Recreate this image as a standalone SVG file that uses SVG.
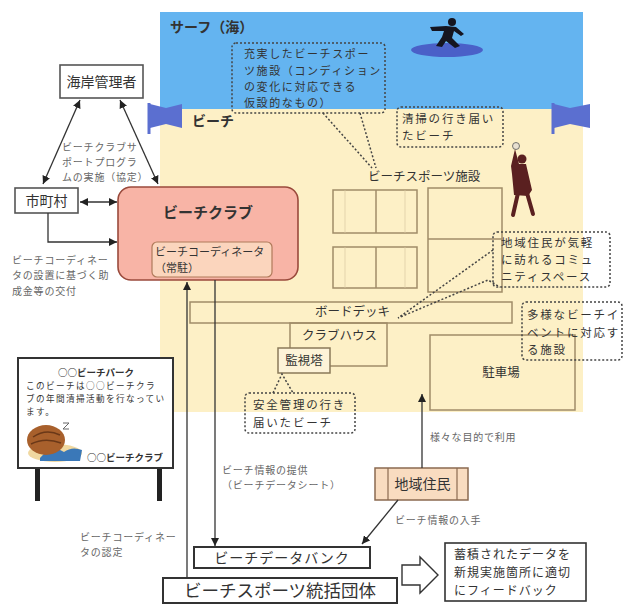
<svg xmlns="http://www.w3.org/2000/svg" width="624" height="604" viewBox="0 0 624 604">
  <defs>
    <style>
      text { font-family: "Noto Sans CJK JP", "Noto Sans", sans-serif; fill: #333; }
      .lbl { font-size: 12.5px; }
      .ann { font-size: 10px; fill: #666; letter-spacing: 0.8px; }
      .call { font-size: 11.5px; fill: #333; letter-spacing: 1.8px; }
      .call1 { font-size: 11px; fill: #333; letter-spacing: 1.6px; }
      .box { fill: #fff; stroke: #555; stroke-width: 1.6; }
      .fac { fill: none; stroke: #a08c68; stroke-width: 1.5; }
      .dot { fill: none; stroke: #444; stroke-width: 1.5; stroke-dasharray: 2 2; }
      .ln { fill: none; stroke: #333; stroke-width: 1.3; }
    </style>
    <marker id="arr" viewBox="0 0 10 10" refX="10" refY="5" markerWidth="8" markerHeight="8" markerUnits="userSpaceOnUse" orient="auto-start-reverse">
      <path d="M0,0 L10,5 L0,10 z" fill="#222"/>
    </marker>
  </defs>

  <rect width="624" height="604" fill="#fff"/>

  <!-- sea and beach -->
  <g id="ground">
    <rect x="160" y="109" width="423" height="303" fill="#fdf0c6"/>
    <rect x="160" y="12" width="423" height="97" fill="#64b4f0"/>
    <text x="170" y="32" font-size="14" font-weight="bold" fill="#2a2a3a">サーフ（海）</text>
    <text x="192" y="126" font-size="14" font-weight="bold" fill="#3a3020">ビーチ</text>
    <!-- flags -->
    <path d="M149,103 L149,134" stroke="#5b6fd0" stroke-width="3"/>
    <path d="M150,104 L166,108 L182,104 L182,128 L166,124 L150,128 z" fill="#5b6fd0"/>
    <path d="M553,103 L553,134" stroke="#5b6fd0" stroke-width="3"/>
    <path d="M554,104 L570,108 L590,104 L590,128 L570,124 L554,128 z" fill="#5b6fd0"/>
    <!-- surfer -->
    <ellipse cx="447" cy="50" rx="36" ry="7" fill="#4a60c8"/>
    <circle cx="452" cy="22" r="4" fill="#151520"/>
    <path d="M430,27 L446,26 L456,27 L464,34 L461,36 L454,31 L452,38 L460,46 L455,48 L446,41 L442,47 L436,46 L442,37 L444,31 L432,31 z" fill="#151520"/>
    <!-- volleyball player -->
    <circle cx="516" cy="146" r="3.5" fill="#e8e0d0" stroke="#555" stroke-width="0.8"/>
    <circle cx="522" cy="159" r="4.5" fill="#5a2020"/>
    <path d="M515,149 L519,164 L526,164 L532,190 L528,196 L514,195 L512,174 L511,166 z" fill="#5a2020"/>
    <path d="M518,193 L513,215 M527,193 L533,214" stroke="#5a2020" stroke-width="4" stroke-linecap="round"/>
  </g>

  <!-- beach facilities -->
  <g id="facilities">
    <text x="368" y="181" class="lbl">ビーチスポーツ施設</text>
    <rect x="333" y="190" width="84" height="43" class="fac"/>
    <line x1="376" y1="190" x2="376" y2="233" class="fac"/>
    <rect x="333" y="247" width="84" height="41" class="fac"/>
    <line x1="376" y1="247" x2="376" y2="288" class="fac"/>
    <rect x="428" y="188" width="74" height="104" class="fac"/>
    <line x1="428" y1="239" x2="502" y2="239" class="fac"/>
    <g stroke="#d8c8a0" stroke-width="0.7">
      <line x1="345" y1="190" x2="345" y2="233"/><line x1="405" y1="190" x2="405" y2="233"/>
      <line x1="345" y1="247" x2="345" y2="288"/><line x1="405" y1="247" x2="405" y2="288"/>
    </g>
  </g>

  <g id="boardwalk">
    <rect x="190" y="302" width="322" height="21" class="fac"/>
    <text x="315" y="316" class="lbl">ボードデッキ</text>
  </g>

  <g id="clubhouse">
    <rect x="290" y="323" width="97" height="43" class="fac"/>
    <text x="302" y="340" class="lbl">クラブハウス</text>
  </g>

  <g id="tower">
    <rect x="278" y="348" width="52" height="25" fill="#fdf3d8" stroke="#8a7a5a" stroke-width="1.5"/>
    <text x="304" y="365" class="lbl" text-anchor="middle">監視塔</text>
  </g>

  <g id="parking">
    <rect x="430" y="335" width="145" height="75" class="fac"/>
    <text x="501" y="377" class="lbl" text-anchor="middle">駐車場</text>
  </g>

  <!-- dotted callouts -->
  <g id="callout-sports">
    <rect x="232" y="43" width="153" height="70" rx="4" class="dot"/>
    <path d="M323,113 L372,168 M360,113 L376,168" class="dot"/>
    <text class="call1"><tspan x="244" y="58">充実したビーチスポー</tspan><tspan x="244" y="75">ツ施設（コンディション</tspan><tspan x="244" y="91">の変化に対応できる</tspan><tspan x="244" y="107">仮設的なもの）</tspan></text>
  </g>
  <g id="callout-clean">
    <rect x="397" y="107" width="106" height="40" rx="4" class="dot"/>
    <text class="call"><tspan x="402" y="123">清掃の行き届い</tspan><tspan x="402" y="140">たビーチ</tspan></text>
  </g>
  <g id="callout-community">
    <rect x="493" y="232" width="117" height="55" rx="4" class="dot"/>
    <path d="M493,250 L398,318 L488,280 L500,287" class="dot"/>
    <text class="call"><tspan x="501" y="247">地域住民が気軽</tspan><tspan x="501" y="264">に訪れるコミュ</tspan><tspan x="501" y="281">ニティスペース</tspan></text>
  </g>
  <g id="callout-events">
    <rect x="522" y="302" width="100" height="58" rx="4" class="dot"/>
    <text class="call"><tspan x="527" y="319">多様なビーチイ</tspan><tspan x="527" y="337">ベントに対応す</tspan><tspan x="527" y="354">る施設</tspan></text>
  </g>
  <g id="callout-safety">
    <rect x="245" y="393" width="110" height="40" rx="4" class="dot"/>
    <path d="M273,393 L282,374 L293,393" class="dot"/>
    <text class="call"><tspan x="253" y="409">安全管理の行き</tspan><tspan x="253" y="427">届いたビーチ</tspan></text>
  </g>

  <!-- organisations -->
  <g id="coast-manager">
    <rect x="60" y="65" width="83" height="33" class="box"/>
    <text x="101.5" y="87" font-size="14" text-anchor="middle">海岸管理者</text>
  </g>

  <g id="municipality">
    <rect x="15" y="188" width="63" height="25" class="box"/>
    <text x="46.5" y="206" font-size="14" text-anchor="middle">市町村</text>
  </g>

  <g id="beach-club">
    <rect x="118" y="187" width="180" height="93" rx="13" fill="#f8b4a6" stroke="#9a4a3c" stroke-width="1.6"/>
    <text x="163" y="218" font-size="15" font-weight="bold" fill="#4a2a2a">ビーチクラブ</text>
    <rect x="152" y="242" width="120" height="35" rx="5" fill="#fbd5bd" stroke="#b07a5a" stroke-width="1.2"/>
    <text font-size="11" fill="#555"><tspan x="155" y="256">ビーチコーディネータ</tspan><tspan x="155" y="272">（常駐）</tspan></text>
  </g>

  <g id="residents">
    <rect x="375" y="468" width="93" height="32" fill="#f9dcc0" stroke="#8a6a50" stroke-width="1.5"/>
    <line x1="388" y1="468" x2="388" y2="500" stroke="#8a6a50" stroke-width="1.2"/>
    <line x1="457" y1="468" x2="457" y2="500" stroke="#8a6a50" stroke-width="1.2"/>
    <text x="422.5" y="489" font-size="14" text-anchor="middle">地域住民</text>
  </g>

  <g id="databank">
    <rect x="194" y="547" width="176" height="21" fill="#fff" stroke="#333" stroke-width="2"/>
    <text x="282" y="563" font-size="14" text-anchor="middle" letter-spacing="1">ビーチデータバンク</text>
  </g>

  <g id="federation">
    <rect x="163" y="578" width="234" height="25" fill="#fff" stroke="#333" stroke-width="2"/>
    <text x="280" y="597" font-size="17.5" text-anchor="middle">ビーチスポーツ統括団体</text>
  </g>

  <g id="feedback">
    <rect x="445" y="543" width="141" height="58" fill="#fff" stroke="#333" stroke-width="1.6"/>
    <text font-size="12" letter-spacing="1"><tspan x="454" y="559">蓄積されたデータを</tspan><tspan x="454" y="577">新規実施箇所に適切</tspan><tspan x="454" y="595">にフィードバック</tspan></text>
  </g>

  <!-- signboard -->
  <g id="signboard">
    <rect x="35" y="466" width="5" height="35" fill="#222"/>
    <rect x="157" y="466" width="5" height="35" fill="#222"/>
    <rect x="18" y="358" width="155" height="110" fill="#fff" stroke="#333" stroke-width="2"/>
    <text x="96" y="376" font-size="9.5" text-anchor="middle" font-weight="bold">○○ビーチパーク</text>
    <text font-size="8.6" letter-spacing="1.4"><tspan x="26" y="389">このビーチは○○ビーチクラ</tspan><tspan x="26" y="402">ブの年間清掃活動を行なってい</tspan><tspan x="26" y="415">ます。</tspan></text>
    <ellipse cx="55" cy="453" rx="27" ry="9" fill="#f0d8a0"/>
    <path d="M40,458 Q52,444 64,452 Q72,446 82,450 L80,461 L40,461 z" fill="#3a78b8"/>
    <ellipse cx="46" cy="440" rx="19" ry="15" fill="#a8602c"/>
    <path d="M33,437 Q46,428 60,435 M31,444 Q45,437 61,443" stroke="#6a3818" stroke-width="1.5" fill="none"/>
    <path d="M63,423 L69,423 L63,429 L69,429" stroke="#666" stroke-width="1" fill="none"/>
    <text x="163" y="461" font-size="9.5" text-anchor="end" font-weight="bold">○○ビーチクラブ</text>
  </g>

  <!-- connectors -->
  <g id="connectors">
    <line x1="80" y1="100" x2="43" y2="184" class="ln" marker-start="url(#arr)" marker-end="url(#arr)"/>
    <line x1="120" y1="100" x2="158" y2="184" class="ln" marker-start="url(#arr)" marker-end="url(#arr)"/>
    <line x1="80" y1="202" x2="117" y2="202" class="ln" marker-start="url(#arr)" marker-end="url(#arr)"/>
    <path d="M48,213 L48,242 L117,242" class="ln" marker-end="url(#arr)"/>
    <line x1="187" y1="578" x2="187" y2="282" class="ln" marker-end="url(#arr)"/>
    <line x1="215" y1="280" x2="215" y2="546" class="ln" marker-end="url(#arr)"/>
    <line x1="422" y1="468" x2="422" y2="394" class="ln" marker-end="url(#arr)"/>
    <line x1="398" y1="500" x2="362" y2="544" class="ln" marker-end="url(#arr)"/>
    <path d="M402,565 L420,565 L420,557 L438,575 L420,593 L420,585 L402,585 z" fill="#fff" stroke="#333" stroke-width="1.4"/>
  </g>

  <!-- connector labels -->
  <g id="labels">
    <text class="ann"><tspan x="62" y="151">ビーチクラブサ</tspan><tspan x="62" y="166">ポートプログラ</tspan><tspan x="62" y="181">ムの実施（協定）</tspan></text>
    <text class="ann"><tspan x="12" y="264">ビーチコーディネー</tspan><tspan x="12" y="279">タの設置に基づく助</tspan><tspan x="12" y="295">成金等の交付</tspan></text>
    <text class="ann"><tspan x="222" y="474">ビーチ情報の提供</tspan><tspan x="222" y="489">（ビーチデータシート）</tspan></text>
    <text class="ann"><tspan x="80" y="541">ビーチコーディネー</tspan><tspan x="80" y="556">タの認定</tspan></text>
    <text x="430" y="441" class="ann">様々な目的で利用</text>
    <text x="395" y="524" class="ann">ビーチ情報の入手</text>
  </g>
</svg>
